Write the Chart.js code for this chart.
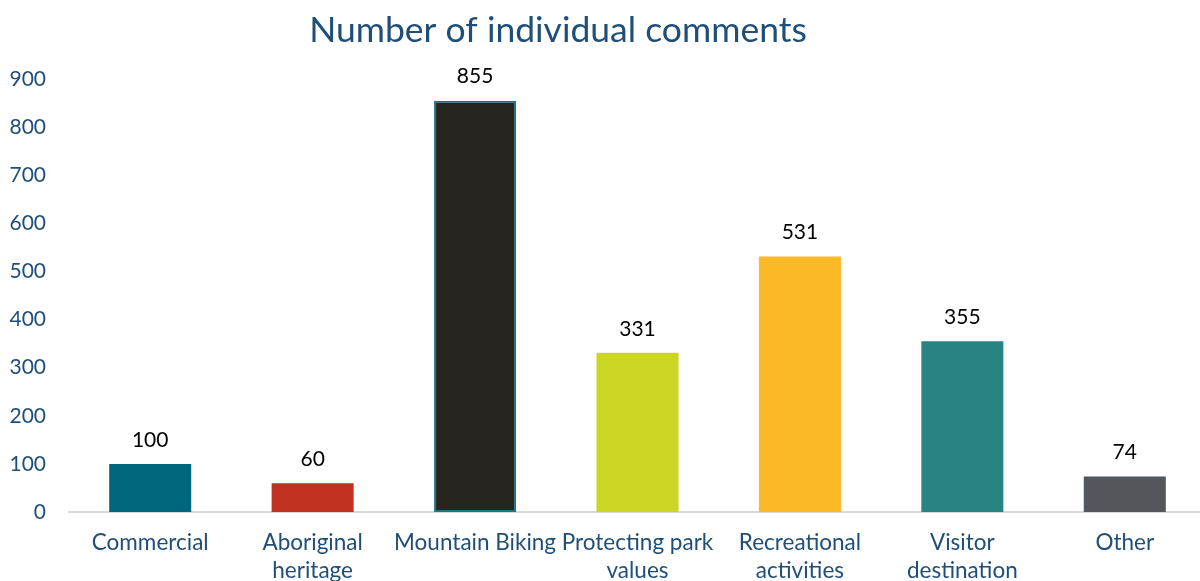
<!DOCTYPE html>
<html>
<head>
<meta charset="utf-8">
<script src="https://cdn.jsdelivr.net/npm/chart.js@4.4.1/dist/chart.umd.min.js"></script>
<style>
  html, body { margin: 0; padding: 0; background: #fff; overflow: hidden; }
  #wrap { position: relative; width: 1206px; height: 600px; }
</style>
</head>
<body>
<div id="wrap"><canvas id="c"></canvas></div>
<script>
const titleText = 'Number of individual comments';
const categories = [
  'Commercial',
  ['Aboriginal', 'heritage'],
  'Mountain Biking',
  ['Protecting park', 'values'],
  ['Recreational', 'activities'],
  ['Visitor', 'destination'],
  'Other'
];
const commentCounts = [100, 60, 855, 331, 531, 355, 74];
const barColors = ['#00667e', '#c0311f', '#27251f', '#cbd524', '#fbb827', '#278483', '#53565a'];
const barBorderColors = ['#00667e', '#c0311f', '#1f7489', '#cbd524', '#fbb827', '#278483', '#53565a'];
const barBorderWidths = [0, 0, 2, 0, 0, 0, 0];
const yTickMin = 0, yTickMax = 900, yTickStep = 100;

const FONT = 'Lato, "Noto Sans", sans-serif';

const titlePlugin = {
  id: 'customTitle',
  afterDraw(chart) {
    const ctx = chart.ctx;
    ctx.save();
    ctx.font = '35.5px ' + FONT;
    ctx.fillStyle = '#1f4e79';
    ctx.textAlign = 'center';
    ctx.textBaseline = 'alphabetic';
    ctx.fillText(titleText, 558, 42);
    ctx.restore();
  }
};

const valueLabels = {
  id: 'valueLabels',
  afterDatasetsDraw(chart) {
    const ctx = chart.ctx;
    const meta = chart.getDatasetMeta(0);
    ctx.save();
    ctx.font = '21px ' + FONT;
    ctx.fillStyle = '#000000';
    ctx.textAlign = 'center';
    ctx.textBaseline = 'middle';
    meta.data.forEach((bar, i) => {
      ctx.fillText(String(chart.data.datasets[0].data[i]), bar.x, bar.y - 24);
    });
    ctx.restore();
  }
};

new Chart(document.getElementById('c'), {
  type: 'bar',
  data: {
    labels: categories,
    datasets: [{
      data: commentCounts,
      backgroundColor: barColors,
      borderColor: barBorderColors,
      borderWidth: barBorderWidths,
      borderSkipped: false,
      barPercentage: 0.505,
      categoryPercentage: 1.0
    }]
  },
  options: {
    responsive: true,
    maintainAspectRatio: false,
    animation: false,
    devicePixelRatio: 1,
    layout: { padding: { top: 79, left: 0, right: 0, bottom: 0 } },
    plugins: {
      legend: { display: false },
      title: { display: false },
      tooltip: { enabled: false }
    },
    scales: {
      x: {
        grid: { display: false, drawTicks: false },
        border: { display: true, color: '#d9d9d9', width: 2 },
        ticks: {
          color: '#1f4e79',
          font: { family: FONT, size: 22.5, lineHeight: 1.27 },
          padding: 16,
          maxRotation: 0,
          autoSkip: false
        },
        afterFit(scale) { scale.height = 88; }
      },
      y: {
        min: yTickMin,
        max: yTickMax,
        grid: { display: false, drawTicks: false },
        border: { display: false },
        ticks: {
          stepSize: yTickStep,
          color: '#1f4e79',
          font: { family: FONT, size: 21 },
          padding: 23
        },
        afterFit(scale) { scale.width = 69; }
      }
    }
  },
  plugins: [titlePlugin, valueLabels]
});
</script>
</body>
</html>
